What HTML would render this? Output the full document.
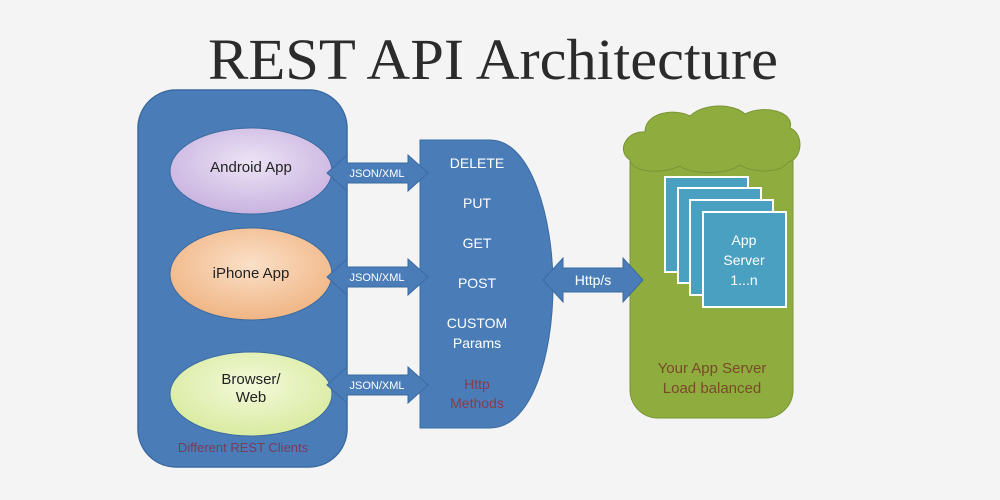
<!DOCTYPE html>
<html><head><meta charset="utf-8"><style>
html,body{margin:0;padding:0;background:#f4f4f4;}
svg{display:block;}
</style></head><body>
<svg width="1000" height="500" viewBox="0 0 1000 500" xmlns="http://www.w3.org/2000/svg">
<defs>
<radialGradient id="gp" cx="50%" cy="40%" r="60%"><stop offset="0" stop-color="#ece3f5"/><stop offset="1" stop-color="#c9b3e0"/></radialGradient>
<radialGradient id="go" cx="50%" cy="40%" r="60%"><stop offset="0" stop-color="#fbe0c8"/><stop offset="1" stop-color="#f0b584"/></radialGradient>
<radialGradient id="gg" cx="50%" cy="40%" r="60%"><stop offset="0" stop-color="#f3f9da"/><stop offset="1" stop-color="#d9eba0"/></radialGradient>
</defs>
<rect width="1000" height="500" fill="#f4f4f4"/>
<text x="208" y="79" font-family="Liberation Serif, serif" font-size="58" fill="#2b2b2b" textLength="570" lengthAdjust="spacingAndGlyphs">REST API Architecture</text>

<rect x="138" y="90" width="209" height="377" rx="38" fill="#4a7db8" stroke="#3b6aa0" stroke-width="1.5"/>
<ellipse cx="251" cy="171" rx="81" ry="43" fill="url(#gp)" stroke="#3b6aa0"/>
<ellipse cx="251" cy="274" rx="81" ry="46" fill="url(#go)" stroke="#3b6aa0"/>
<ellipse cx="251" cy="394" rx="81" ry="42" fill="url(#gg)" stroke="#3b6aa0"/>
<g font-family="Liberation Sans, sans-serif" font-size="15" fill="#222" text-anchor="middle">
<text x="251" y="172">Android App</text>
<text x="251" y="278">iPhone App</text>
<text x="251" y="384">Browser/</text>
<text x="251" y="402">Web</text>
</g>
<text x="243" y="452" font-family="Liberation Sans, sans-serif" font-size="13" fill="#7b3a5a" text-anchor="middle">Different REST Clients</text>

<path d="M420,140 H490 C532,140 553,220 553,285 C553,355 532,428 490,428 H420 Z" fill="#4a7db8" stroke="#3b6aa0"/>
<g font-family="Liberation Sans, sans-serif" font-size="14" fill="#fff" text-anchor="middle">
<text x="477" y="168">DELETE</text>
<text x="477" y="208">PUT</text>
<text x="477" y="248">GET</text>
<text x="477" y="288">POST</text>
<text x="477" y="328">CUSTOM</text>
<text x="477" y="348">Params</text>
<text x="477" y="389" fill="#8b3a4a">Http</text>
<text x="477" y="408" fill="#8b3a4a">Methods</text>
</g>

<g fill="#4a7db8" stroke="#3b6aa0">
<path d="M327,173 l20,-18 v8 h61 v-8 l20,18 l-20,18 v-8 h-61 v8 z"/>
<path d="M327,277 l20,-18 v8 h61 v-8 l20,18 l-20,18 v-8 h-61 v8 z"/>
<path d="M327,385 l20,-18 v8 h61 v-8 l20,18 l-20,18 v-8 h-61 v8 z"/>
</g>
<g font-family="Liberation Sans, sans-serif" font-size="11" fill="#fff" text-anchor="middle">
<text x="377" y="177">JSON/XML</text>
<text x="377" y="281">JSON/XML</text>
<text x="377" y="389">JSON/XML</text>
</g>

<rect x="630" y="130" width="163" height="288" rx="28" fill="#8fac3e" stroke="#7a9535"/>
<path d="M630,160 C615,150 628,130 645,132 C645,112 675,108 690,116 C705,102 735,104 745,114 C765,104 795,112 790,128 C805,134 802,160 788,162 C780,175 750,172 740,165 C725,176 690,174 680,166 C660,175 632,172 630,160 Z" fill="#8fac3e" stroke="#7a9535"/>
<path d="M543,280 l20,-22 v10 h60 v-10 l20,22 l-20,22 v-10 h-60 v10 z" fill="#4a7db8" stroke="#3b6aa0"/>
<text x="593" y="285" font-family="Liberation Sans, sans-serif" font-size="14" fill="#fff" text-anchor="middle">Http/s</text>
<g fill="#4aa0c0" stroke="#fff" stroke-width="2">
<rect x="665" y="177" width="83" height="95"/>
<rect x="678" y="188" width="83" height="95"/>
<rect x="690" y="200" width="83" height="95"/>
<rect x="703" y="212" width="83" height="95"/>
</g>
<g font-family="Liberation Sans, sans-serif" font-size="14" fill="#fff" text-anchor="middle">
<text x="744" y="245">App</text>
<text x="744" y="265">Server</text>
<text x="744" y="285">1...n</text>
</g>
<g font-family="Liberation Sans, sans-serif" font-size="15" fill="#7a4a2a" text-anchor="middle">
<text x="712" y="373">Your App Server</text>
<text x="712" y="393">Load balanced</text>
</g>
</svg>
</body></html>
